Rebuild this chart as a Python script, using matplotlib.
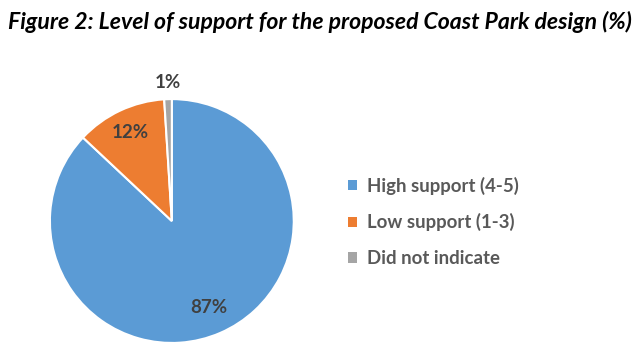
import matplotlib.pyplot as plt
import numpy as np
from matplotlib.patches import Patch

categories = ["High support (4-5)", "Low support (1-3)", "Did not indicate"]
values = [87, 12, 1]
value_labels = ["87%", "12%", "1%"]
colors = ["#5B9BD5", "#ED7D31", "#A5A5A5"]

fig = plt.figure(figsize=(6.4, 3.52), dpi=100)

fig.text(0.5, 0.938, "Figure 2: Level of support for the proposed Coast Park design (%)",
         ha="center", va="center", fontsize=16.6, fontweight="bold", fontstyle="italic",
         family="Lato", color="black")

ax = fig.add_axes([0.078, 0.0256, 0.381, 0.693])
wedges, _ = ax.pie(values, colors=colors, startangle=90, counterclock=False,
                   wedgeprops={"edgecolor": "white", "linewidth": 1.5})
ax.set_xlim(-1, 1)
ax.set_ylim(-1, 1)
ax.set_aspect("equal")

# label distances from centre (fraction of radius)
dists = [0.77, 0.8, 1.14]
for w, lab, d in zip(wedges, value_labels, dists):
    mid = np.deg2rad((w.theta1 + w.theta2) / 2)
    ax.text(d * np.cos(mid), d * np.sin(mid), lab, ha="center", va="center",
            fontsize=13.5, fontweight="bold", color="#404040", family="Lato")

handles = [Patch(facecolor=c, edgecolor="none") for c in colors]
fig.legend(handles, categories, loc="center left", bbox_to_anchor=(0.518, 0.37),
           frameon=False, prop={"family": "Lato", "weight": "bold", "size": 13.4},
           labelcolor="#595959", handlelength=0.48, handleheight=0.48,
           handletextpad=0.5, labelspacing=1.0)

fig.savefig("out.png", dpi=100)
